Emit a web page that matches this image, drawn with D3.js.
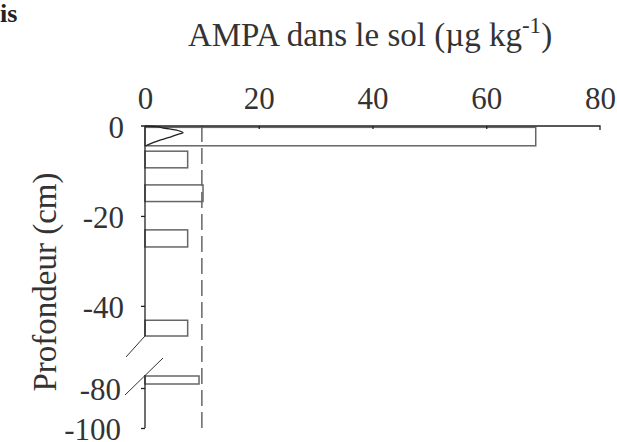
<!DOCTYPE html>
<html>
<head>
<meta charset="utf-8">
<script src="https://cdn.jsdelivr.net/npm/d3@7"></script>
<style>
  html, body { margin: 0; padding: 0; background: #fff; }
  svg { display: block; }
  svg text { font-family: "Liberation Serif", "Times New Roman", serif !important; fill: #333; }
</style>
</head>
<body>
<svg id="chart" width="617" height="442"></svg>
<script>
// AMPA content per sampled soil layer (µg/kg) and layer depths (cm)
const layerTop    = [0.3, 5.6, 13.1, 23.1, 43.2, 74];
const layerBottom = [4.4, 9.3, 16.8, 26.9, 46.7, 78];
const ampa        = [68.7, 7.5, 10.2, 7.5, 7.5, 9.5];

// Modelled profile in the top layer
const profileValue = [0, 2.0, 3.5, 5.0, 5.8, 6.7, 5.9, 4.6, 3.3, 2.3, 1.2, 0.5, 0.1];
const profileDepth = [0, 0.15, 0.5, 0.8, 1.0, 1.5, 1.8, 2.4, 2.9, 3.3, 3.8, 4.2, 4.4];

// Reference threshold (µg/kg)
const threshold = 10;

const xTicks = [0, 20, 40, 60, 80];
const yTicksUpper = [0, -20, -40];
const yTicksLower = [-80, -100];

const serif = '"Liberation Serif", "Times New Roman", serif';
const svg = d3.select("#chart").attr("font-family", serif);
const fmt = d => String(d); // plain hyphen for negatives

const x = d3.scaleLinear().domain([0, 80]).range([145, 600]);
// broken depth axis: upper and lower segments
const yUp = d3.scaleLinear().domain([0, -46.7]).range([126, 336]);
const yLow = d3.scaleLinear().domain([-73.5, -100]).range([375, 428]);
const yOf = d => (d > -50 ? yUp(d) : yLow(d));

// bars
svg.append("g").selectAll("rect")
  .data(ampa.map((v, i) => ({ v, t: -layerTop[i], b: -layerBottom[i] })))
  .join("rect")
  .attr("x", x(0))
  .attr("y", d => yOf(d.t))
  .attr("width", d => x(d.v) - x(0))
  .attr("height", d => yOf(d.b) - yOf(d.t))
  .attr("fill", "#fff")
  .attr("stroke", "#666")
  .attr("stroke-width", 1.5);

// threshold dashed line
svg.append("line")
  .attr("x1", x(threshold)).attr("x2", x(threshold))
  .attr("y1", yUp(0)).attr("y2", yLow(-100) + 2)
  .attr("stroke", "#666")
  .attr("stroke-width", 1.5)
  .attr("stroke-dasharray", "16,6");

// profile curve
const line = d3.line()
  .x(d => x(d[0]))
  .y(d => yUp(-d[1]))
  .curve(d3.curveCatmullRom);
svg.append("path")
  .datum(profileValue.map((v, i) => [v, profileDepth[i]]))
  .attr("d", line)
  .attr("fill", "none")
  .attr("stroke", "#222")
  .attr("stroke-width", 1.3);

function styleTicks(g) {
  g.attr("font-family", serif);
  g.selectAll(".tick text")
    .style("font-family", serif)
    .style("font-size", "31px")
    .style("fill", "#333");
  g.selectAll(".tick line").attr("stroke", "#222").attr("stroke-width", 1.3);
}

// x axis (top)
const xAxis = d3.axisTop(x).tickValues(xTicks).tickFormat(fmt)
  .tickSizeInner(-3).tickSizeOuter(0).tickPadding(17);
const gx = svg.append("g").attr("transform", `translate(0,${yUp(0)})`).call(xAxis);
gx.select(".domain").attr("d", `M${x(0) - 4},0H${x(80)}V4`).attr("stroke", "#222").attr("stroke-width", 1.3);
styleTicks(gx);
gx.selectAll(".tick").filter(d => d === 0 || d === 80).select("line").remove();

// y axis (upper segment)
const gyU = svg.append("g").attr("transform", `translate(${x(0)},0)`)
  .call(d3.axisLeft(yUp).tickValues(yTicksUpper).tickFormat(fmt)
    .tickSizeInner(4).tickSizeOuter(0).tickPadding(17));
gyU.select(".domain").attr("d", `M0,${yUp(0)}V${yUp(-46.7)}`).attr("stroke", "#222").attr("stroke-width", 1.3);
styleTicks(gyU);
gyU.selectAll(".tick").filter(d => d === 0).select("line").remove();

// y axis (lower segment)
const gyL = svg.append("g").attr("transform", `translate(${x(0)},0)`)
  .call(d3.axisLeft(yLow).tickValues(yTicksLower).tickFormat(fmt)
    .tickSizeInner(4).tickSizeOuter(0).tickPadding(20));
gyL.select(".domain").attr("d", `M0,${yLow(-73.5)}V${yLow(-100)}`).attr("stroke", "#222").attr("stroke-width", 1.3);
styleTicks(gyL);

[gyU, gyL].forEach(g => g.selectAll(".tick text").attr("dy", "0.36em"));

// axis break marks
svg.append("line").attr("x1", x(0)).attr("y1", yUp(-46.7)).attr("x2", x(0) - 19).attr("y2", yUp(-46.7) + 21)
  .attr("stroke", "#333").attr("stroke-width", 1);
svg.append("line").attr("x1", x(0) + 18).attr("y1", 358).attr("x2", x(0) - 20).attr("y2", 395)
  .attr("stroke", "#333").attr("stroke-width", 1);

// titles
const title = svg.append("text").attr("x", 370).attr("y", 46).attr("text-anchor", "middle").attr("font-size", 33);
title.append("tspan").text("AMPA dans le sol (µg kg");
title.append("tspan").attr("font-size", 23).attr("dy", -13).text("-1");
title.append("tspan").attr("dy", 13).text(")");

svg.append("text")
  .attr("transform", "translate(56,282) rotate(-90)")
  .attr("text-anchor", "middle").attr("font-size", 33)
  .text("Profondeur (cm)");

svg.append("text").attr("x", 0).attr("y", 22).attr("font-size", 26).attr("font-weight", "bold")
  .style("fill", "#222").text("is");
</script>
</body>
</html>
